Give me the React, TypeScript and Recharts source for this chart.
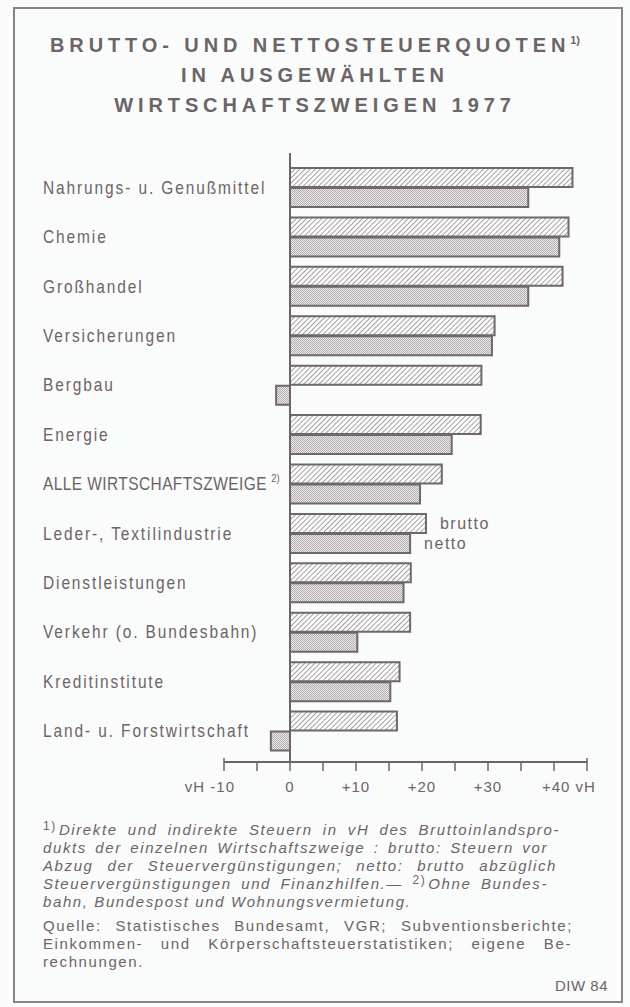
import { BarChart, Bar, XAxis, YAxis, ReferenceLine, LabelList } from 'recharts'

const CATEGORIES = [
  'Nahrungs- u. Genußmittel',
  'Chemie',
  'Großhandel',
  'Versicherungen',
  'Bergbau',
  'Energie',
  'ALLE WIRTSCHAFTSZWEIGE',
  'Leder-, Textilindustrie',
  'Dienstleistungen',
  'Verkehr (o. Bundesbahn)',
  'Kreditinstitute',
  'Land- u. Forstwirtschaft',
]

// Steuerquoten in vH
const BRUTTO = [42.8, 42.2, 41.3, 31.0, 29.0, 28.9, 23.0, 20.6, 18.3, 18.2, 16.6, 16.2]
const NETTO = [36.1, 40.8, 36.1, 30.6, -2.1, 24.5, 19.7, 18.2, 17.2, 10.2, 15.2, -2.9]

const X_TICKS = [-10, -5, 0, 5, 10, 15, 20, 25, 30, 35, 40, 45]
const X_TICK_LABELS: Record<number, string> = {
  [-10]: 'vH -10',
  0: '0',
  10: '+10',
  20: '+20',
  30: '+30',
  40: '+40 vH',
}

const LEGEND_ROW = 'Leder-, Textilindustrie'
const FOOTNOTE_ROW = 'ALLE WIRTSCHAFTSZWEIGE'

const data = CATEGORIES.map((name, i) => ({ name, brutto: BRUTTO[i], netto: NETTO[i] }))

const INK = '#6d6466'
const SANS = "'Liberation Sans', Arial, sans-serif"

function CategoryTick({ y, payload }: any) {
  const name = payload.value
  const isAll = name === FOOTNOTE_ROW
  return (
    <g transform={`translate(43, ${y}) scale(0.86, 1)`}>
      <text x={0} y={0} dy={6} fill={INK} fontSize={18} fontFamily={SANS} letterSpacing={isAll ? 0.5 : 2.2}>
        {name}
        {isAll && (
          <tspan fontSize={11} dy={-8} dx={5} letterSpacing={0}>
            2)
          </tspan>
        )}
      </text>
    </g>
  )
}

function ValueTick({ x, y, payload }: any) {
  const v = payload.value
  const label = X_TICK_LABELS[v]
  const isEnd = v === X_TICKS[0] || v === X_TICKS[X_TICKS.length - 1]
  let anchor = 'middle'
  let tx = x
  if (v === -10) {
    anchor = 'end'
    tx = x + 11
  } else if (v === 40) {
    anchor = 'start'
    tx = x - 12
  }
  return (
    <g>
      <line x1={x} x2={x} y1={isEnd ? y - 4 : y} y2={y + 9} stroke={INK} strokeWidth={1.5} />
      {label && (
        <text x={tx} y={y + 30} textAnchor={anchor} fill={INK} fontSize={15} fontFamily={SANS} letterSpacing={1}>
          {label}
        </text>
      )}
    </g>
  )
}

function legendLabel(key: 'brutto' | 'netto') {
  return (props: any) => {
    const { x, y, width, height, index } = props
    if (data[index].name !== LEGEND_ROW) return null
    return (
      <text x={x + width + 14} y={y + height / 2} dy={6} fill={INK} fontSize={16} fontFamily={SANS} letterSpacing={1.5}>
        {key}
      </text>
    )
  }
}

function ZeroLine(props: any) {
  const top = Math.min(props.y1, props.y2)
  const bottom = Math.max(props.y1, props.y2)
  return <line x1={props.x1} x2={props.x2} y1={top - 10} y2={bottom} stroke={INK} strokeWidth={2} />
}

const FOOTNOTE_STYLE: React.CSSProperties = {
  position: 'absolute',
  left: 43,
  fontFamily: SANS,
  fontSize: 15,
  letterSpacing: 1.6,
  color: INK,
  whiteSpace: 'nowrap',
  lineHeight: '16px',
}

const footLines = [
  { top: 822, w: 517, text: 'Direkte und indirekte Steuern in vH des Bruttoinlandspro-', sup: '1)' },
  { top: 840, w: 505, text: 'dukts der einzelnen Wirtschaftszweige : brutto: Steuern vor' },
  { top: 858, w: 514, text: 'Abzug der Steuervergünstigungen; netto: brutto abzüglich' },
  { top: 876, w: 505, text: 'Steuervergünstigungen und Finanzhilfen.— ', sup2: '2)', after: 'Ohne Bundes-' },
  { top: 894, w: 0, text: 'bahn, Bundespost und Wohnungsvermietung.' },
]

const sourceLines = [
  { w: 530, text: 'Quelle: Statistisches Bundesamt, VGR; Subventionsberichte;' },
  { w: 529, text: 'Einkommen- und Körperschaftsteuerstatistiken; eigene Be-' },
  { w: 0, text: 'rechnungen.' },
]

function lineStyle(top: number, w: number): React.CSSProperties {
  return w
    ? { ...FOOTNOTE_STYLE, top, width: w, whiteSpace: 'normal', textAlign: 'justify', textAlignLast: 'justify' }
    : { ...FOOTNOTE_STYLE, top }
}

export default function App() {
  return (
    <div style={{ position: 'absolute', left: 0, top: 0, width: 630, height: 1007, background: '#fafbfb', overflow: 'hidden' }}>
      <div
        style={{
          position: 'absolute',
          left: 13,
          top: 7,
          width: 606,
          height: 992,
          border: `2px solid #8a8283`,
        }}
      />
      <div
        style={{
          position: 'absolute',
          left: 0,
          top: 25,
          width: 630,
          textAlign: 'center',
          fontFamily: SANS,
          fontWeight: 'bold',
          fontSize: 20,
          letterSpacing: 4.9,
          lineHeight: '30px',
          color: INK,
        }}
      >
        <div>
          BRUTTO- UND NETTOSTEUERQUOTEN<sup style={{ fontSize: 11, letterSpacing: 0, marginLeft: 0 }}>1)</sup>
        </div>
        <div>IN AUSGEWÄHLTEN</div>
        <div>WIRTSCHAFTSZWEIGEN 1977</div>
      </div>

      <div style={{ position: 'absolute', left: 0, top: 0 }}>
        <BarChart
          width={630}
          height={824}
          data={data}
          layout="vertical"
          margin={{ top: 163, right: 43, bottom: 2, left: 0 }}
          barSize={19}
          barGap={1}
        >
          <defs>
            <pattern id="hatch" patternUnits="userSpaceOnUse" width={3.6} height={3.6} patternTransform="rotate(45)">
              <rect width={3.6} height={3.6} fill="#fbfbfb" />
              <line x1={0} y1={0} x2={0} y2={3.6} stroke="#7d7576" strokeWidth={1.3} />
            </pattern>
            <pattern id="stipple" patternUnits="userSpaceOnUse" width={2} height={2}>
              <rect width={2} height={2} fill="#ebe9e9" />
              <rect x={0} y={0} width={1} height={1} fill="#b3adad" />
              <rect x={1} y={1} width={1} height={1} fill="#b3adad" />
            </pattern>
          </defs>
          <XAxis
            type="number"
            domain={[-10, 45]}
            ticks={X_TICKS}
            interval={0}
            height={60}
            tickSize={0}
            tickMargin={0}
            tickLine={false}
            axisLine={{ stroke: INK, strokeWidth: 2 }}
            tick={<ValueTick />}
          />
          <YAxis
            type="category"
            dataKey="name"
            width={224}
            axisLine={false}
            tickLine={false}
            tick={<CategoryTick />}
            interval={0}
            padding={{ top: 0, bottom: 6 }}
          />
          <Bar dataKey="brutto" fill="url(#hatch)" stroke="#6f6768" strokeWidth={2} isAnimationActive={false}>
            <LabelList dataKey="brutto" content={legendLabel('brutto')} />
          </Bar>
          <Bar dataKey="netto" fill="url(#stipple)" stroke="#6f6768" strokeWidth={2} isAnimationActive={false}>
            <LabelList dataKey="netto" content={legendLabel('netto')} />
          </Bar>
          <ReferenceLine x={0} stroke={INK} shape={<ZeroLine />} />
        </BarChart>
      </div>

      {footLines.map((l, i) => (
        <div key={i} style={lineStyle(l.top, l.w)}>
          {l.sup && <span style={{ fontSize: 12, position: 'relative', top: -5, marginRight: 2 }}>{l.sup}</span>}
          <span style={{ fontStyle: 'italic' }}>{l.text}</span>
          {l.sup2 && <span style={{ fontSize: 12, position: 'relative', top: -5, marginRight: 2 }}>{l.sup2}</span>}
          {l.after && <span style={{ fontStyle: 'italic' }}>{l.after}</span>}
        </div>
      ))}
      {sourceLines.map((l, i) => (
        <div key={'s' + i} style={lineStyle(918 + i * 18, l.w)}>
          {l.text}
        </div>
      ))}
      <div style={{ ...FOOTNOTE_STYLE, left: 'auto', right: 22, top: 978, letterSpacing: 0.5 }}>DIW 84</div>
    </div>
  )
}
